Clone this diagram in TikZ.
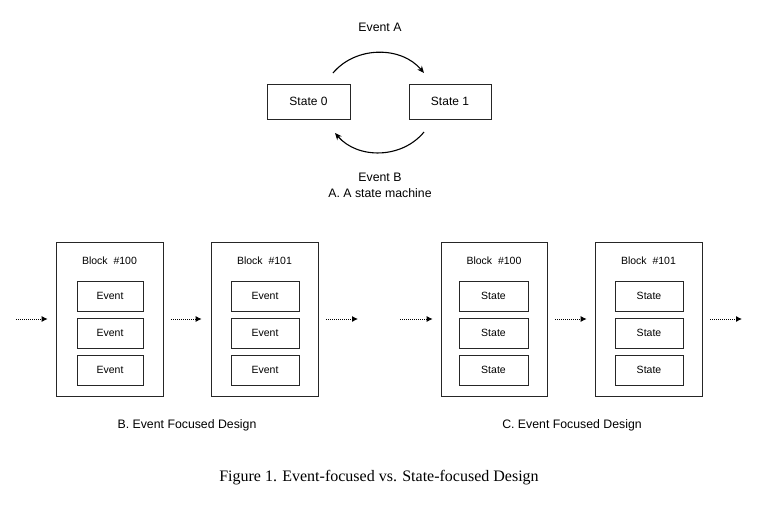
\documentclass[tikz,border=0pt]{standalone}
\usepackage{fontspec}
\setmainfont{Liberation Sans}
\newfontfamily\capfont{Liberation Serif}
\usetikzlibrary{arrows.meta}
\begin{document}
\begin{tikzpicture}[x=1pt,y=-1pt,
  box/.style={draw=black!85,line width=0.7pt,inner sep=0pt,font=\fontsize{10.5}{12}\selectfont},
  lbl/.style={inner sep=0pt,font=\fontsize{12.3}{14}\selectfont},
  dotarrow/.style={dash pattern=on 1pt off 1pt,line width=0.9pt,-{Latex[length=6pt,width=6pt]}},
  arc/.style={line width=1.1pt,-{Stealth[length=7pt,width=6pt]}}]
\useasboundingbox (0,0) rectangle (761,512);
% top state machine
\node[box,minimum width=83pt,minimum height=35pt,font=\fontsize{12}{14}\selectfont] (s0) at (308.5,101.5) {State 0};
\node[box,minimum width=82pt,minimum height=35pt,font=\fontsize{12}{14}\selectfont] (s1) at (450,101.5) {State 1};
\node[lbl] (ea) at (380,27) {Event A};
\node[lbl] (eb) at (380,177) {Event B};
\node[lbl] (capA) at (380,193) {A. A state machine};
\coordinate (a1) at (333,73);
\coordinate (a2) at (424,73);
\coordinate (b1) at (424,132);
\coordinate (b2) at (335,133);
\draw[arc] (a1) to[bend left=50] (a2);
\draw[arc] (b1) to[bend left=50] (b2);
% blocks
\foreach \n/\xl/\xr/\il/\ir/\lab/\item in {
  p/56/163/77/143/100/Event, q/211/318/231/299/101/Event,
  r/441/547/459/528/100/State, s/595/702/615/683/101/State}{
  \node[box,minimum width={\xr-\xl},minimum height=154pt] (\n) at ({(\xl+\xr)/2},319) {};
  \node[inner sep=0pt,font=\fontsize{10.5}{12}\selectfont] (\n t) at ({(\xl+\xr)/2},261) {Block\ \ \#\lab};
  \node[box,minimum width={\ir-\il},minimum height=30pt] (\n1) at ({(\il+\ir)/2},296) {\item};
  \node[box,minimum width={\ir-\il},minimum height=30pt] (\n2) at ({(\il+\ir)/2},333) {\item};
  \node[box,minimum width={\ir-\il},minimum height=30pt] (\n3) at ({(\il+\ir)/2},370) {\item};
}
\coordinate (c0) at (16,319);
\coordinate (c1) at (358,319);
\coordinate (c2) at (400,319);
\coordinate (c3) at (742,319);
\draw[dotarrow] (c0) -- ([xshift=-8pt]c0 -| p.west);
\draw[dotarrow] ([xshift=8pt]p.east |- c0) -- ([xshift=-9pt]q.west |- c0);
\draw[dotarrow] ([xshift=8pt]q.east |- c0) -- (c1);
\draw[dotarrow] (c2) -- ([xshift=-8pt]c2 -| r.west);
\draw[dotarrow] ([xshift=8pt]r.east |- c2) -- ([xshift=-8pt]s.west |- c2);
\draw[dotarrow] ([xshift=8pt]s.east |- c2) -- (c3);
\node[lbl] (capB) at (187,425) {B. Event Focused Design};
\node[lbl] (capC) at (572,425) {C. Event Focused Design};
\node[inner sep=0pt,font=\capfont\fontsize{16}{18}\selectfont] (fig) at (379,478) {Figure 1. Event-focused vs. State-focused Design};
\end{tikzpicture}
\end{document}
